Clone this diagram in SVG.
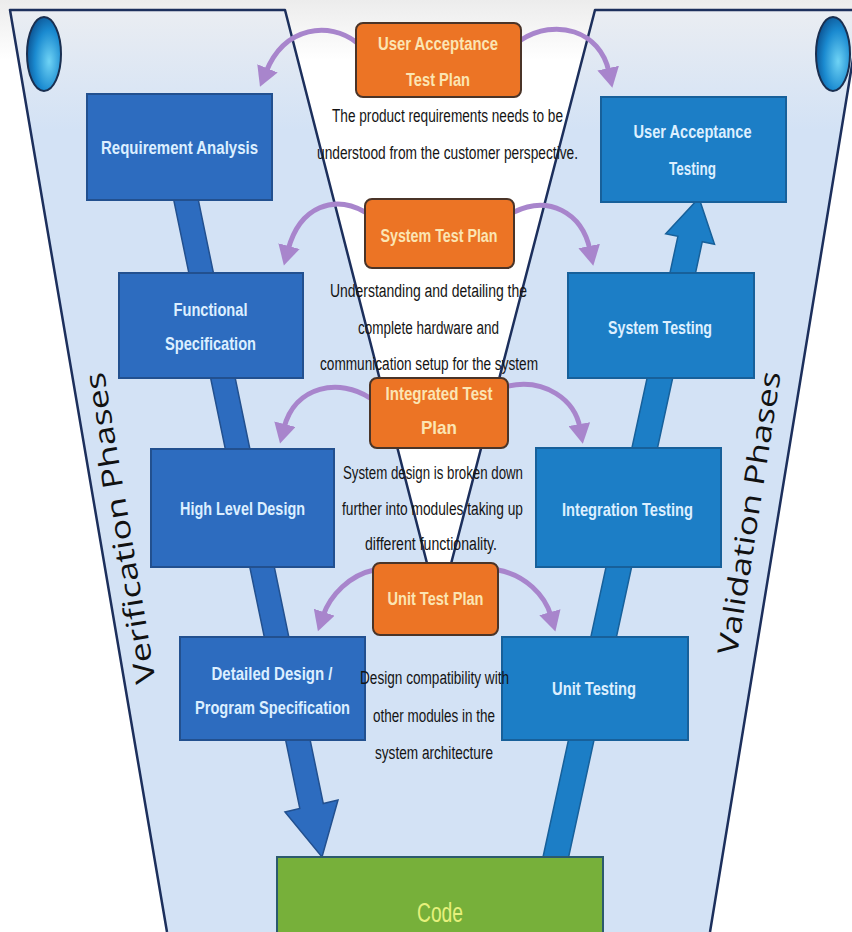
<svg xmlns="http://www.w3.org/2000/svg" width="852" height="932" viewBox="0 0 852 932">
  <defs>
    <linearGradient id="panelGrad" gradientUnits="userSpaceOnUse" x1="0" y1="10" x2="0" y2="130">
      <stop offset="0" stop-color="#eaedf2"/>
      <stop offset="1" stop-color="#d3e2f5"/>
    </linearGradient>
    <linearGradient id="topGrad" gradientUnits="userSpaceOnUse" x1="0" y1="0" x2="0" y2="60">
      <stop offset="0" stop-color="#ececec"/>
      <stop offset="1" stop-color="#ffffff"/>
    </linearGradient>
    <radialGradient id="ovalGrad" cx="0.65" cy="0.6" r="0.7">
      <stop offset="0" stop-color="#6fd3f5"/>
      <stop offset="0.6" stop-color="#1a8ad0"/>
      <stop offset="1" stop-color="#0b4f8e"/>
    </radialGradient>
    <marker id="pArrow" markerUnits="userSpaceOnUse" markerWidth="22" markerHeight="22" refX="4" refY="11" orient="auto">
      <path d="M0,0 L20,11 L0,22 z" fill="#a885cc"/>
    </marker>
    <style>
      .lbox { fill: #2d6cbf; stroke: #22508f; stroke-width: 2; }
      .rbox { fill: #1c7ec6; stroke: #17609a; stroke-width: 2; }
      .obox { fill: #ec7425; stroke: #4a3428; stroke-width: 2; }
      .btxt { font-family: "Liberation Sans", Arial, sans-serif; font-weight: bold; font-size: 19px; fill: #dcefff; text-anchor: middle; }
      .otxt { font-family: "Liberation Sans", Arial, sans-serif; font-weight: bold; font-size: 19px; fill: #fbe5b3; text-anchor: middle; }
      .dtxt { font-family: "Liberation Sans", Arial, sans-serif; font-size: 18px; fill: #141414; text-anchor: middle; }
      .vtxt { font-family: "Open Sans", "DejaVu Sans", sans-serif; font-size: 28px; fill: #111111; text-anchor: middle; }
      .edge { fill: none; stroke: #1c2f5c; stroke-width: 2.5; stroke-linejoin: round; }
      .parc { fill: none; stroke: #a885cc; stroke-width: 5; stroke-linecap: round; }
    </style>
  </defs>

  <!-- background -->
  <rect x="0" y="0" width="852" height="932" fill="#ffffff"/>
  <rect x="0" y="0" width="852" height="60" fill="url(#topGrad)"/>
  <polygon points="10,10 285,10 439,610 595,10 861,10 710,932 167,932" fill="url(#panelGrad)"/>
  <path class="edge" d="M167,932 L10,10 L285,10 L439,610"/>
  <path class="edge" d="M439,610 L595,10 L861,10 L710,932"/>

  <ellipse id="oval-left" cx="44" cy="54" rx="17" ry="37" fill="url(#ovalGrad)" stroke="#1a2f50" stroke-width="2"/>
  <ellipse id="oval-right" cx="833" cy="54" rx="17" ry="37" fill="url(#ovalGrad)" stroke="#1a2f50" stroke-width="2"/>

  <text class="vtxt" transform="translate(121,528) rotate(-99.5)" y="9" textLength="315" lengthAdjust="spacingAndGlyphs">Verification Phases</text>
  <text class="vtxt" transform="translate(750,513) rotate(-81.2)" y="9" textLength="286" lengthAdjust="spacingAndGlyphs">Validation Phases</text>

  <!-- connectors -->
  <g id="connectors">
    <polygon id="band-left" points="173.2,197.4 196.8,192.6 323.3,803.6 338,800 322,857 285,812 299.8,808.4" fill="#2d6cbf" stroke="#22508f" stroke-width="1.5"/>
    <polygon id="band-right" points="540.8,867.3 565.2,872.7 702.3,241.7 714.5,244.3 699,198 665.7,233.7 677.9,236.3" fill="#1c7ec6" stroke="#17609a" stroke-width="1.5"/>
    <path class="parc" marker-end="url(#pArrow)" d="M356,42 C330,22 285,25 266,72"/>
    <path class="parc" marker-end="url(#pArrow)" d="M521,40 C555,18 600,30 609,72"/>
    <path class="parc" marker-end="url(#pArrow)" d="M365,212 C335,195 300,205 288,250"/>
    <path class="parc" marker-end="url(#pArrow)" d="M514,212 C548,195 582,212 590,250"/>
    <path class="parc" marker-end="url(#pArrow)" d="M370,398 C340,378 295,385 284,428"/>
    <path class="parc" marker-end="url(#pArrow)" d="M508,386 C545,378 575,400 580,428"/>
    <path class="parc" marker-end="url(#pArrow)" d="M374,570 C350,575 330,595 323,616"/>
    <path class="parc" marker-end="url(#pArrow)" d="M498,570 C525,575 545,595 551,616"/>
  </g>

  <!-- verification nodes -->
  <g id="requirement-analysis">
    <rect class="lbox" x="87" y="94" width="185" height="106"/>
    <text class="btxt" x="179.5" y="154" textLength="157" lengthAdjust="spacingAndGlyphs">Requirement Analysis</text>
  </g>
  <g id="functional-specification">
    <rect class="lbox" x="119" y="273" width="184" height="105"/>
    <text class="btxt" x="210.5" y="316" textLength="74" lengthAdjust="spacingAndGlyphs">Functional</text>
    <text class="btxt" x="210.5" y="350" textLength="91" lengthAdjust="spacingAndGlyphs">Specification</text>
  </g>
  <g id="high-level-design">
    <rect class="lbox" x="151" y="449" width="183" height="118"/>
    <text class="btxt" x="242.5" y="515" textLength="125" lengthAdjust="spacingAndGlyphs">High Level Design</text>
  </g>
  <g id="detailed-design">
    <rect class="lbox" x="180" y="637" width="185" height="103"/>
    <text class="btxt" x="272" y="680" textLength="121" lengthAdjust="spacingAndGlyphs">Detailed Design /</text>
    <text class="btxt" x="272.5" y="714" textLength="155" lengthAdjust="spacingAndGlyphs">Program Specification</text>
  </g>

  <!-- validation nodes -->
  <g id="user-acceptance-testing">
    <rect class="rbox" x="601" y="97" width="185" height="105"/>
    <text class="btxt" x="692.5" y="138" textLength="118" lengthAdjust="spacingAndGlyphs">User Acceptance</text>
    <text class="btxt" x="692.5" y="175" textLength="47" lengthAdjust="spacingAndGlyphs">Testing</text>
  </g>
  <g id="system-testing">
    <rect class="rbox" x="568" y="273" width="186" height="105"/>
    <text class="btxt" x="660" y="334" textLength="104" lengthAdjust="spacingAndGlyphs">System Testing</text>
  </g>
  <g id="integration-testing">
    <rect class="rbox" x="536" y="448" width="185" height="119"/>
    <text class="btxt" x="627.5" y="516" textLength="131" lengthAdjust="spacingAndGlyphs">Integration Testing</text>
  </g>
  <g id="unit-testing">
    <rect class="rbox" x="502" y="637" width="186" height="103"/>
    <text class="btxt" x="594" y="695" textLength="84" lengthAdjust="spacingAndGlyphs">Unit Testing</text>
  </g>

  <!-- code -->
  <g id="code">
    <rect x="277" y="857" width="326" height="90" fill="#77b03a" stroke="#2b5a6e" stroke-width="2"/>
    <text x="440" y="922" font-family="Liberation Sans, Arial, sans-serif" font-size="27" fill="#e6f07c" text-anchor="middle" textLength="46" lengthAdjust="spacingAndGlyphs">Code</text>
  </g>

  <!-- test plans -->
  <g id="user-acceptance-test-plan">
    <rect class="obox" x="356" y="23" width="165" height="74" rx="7"/>
    <text class="otxt" x="438" y="50" textLength="120" lengthAdjust="spacingAndGlyphs">User Acceptance</text>
    <text class="otxt" x="438" y="86" textLength="64" lengthAdjust="spacingAndGlyphs">Test Plan</text>
    <text class="dtxt" x="447.5" y="122" textLength="231" lengthAdjust="spacingAndGlyphs">The product requirements needs to be</text>
    <text class="dtxt" x="447.5" y="159" textLength="261" lengthAdjust="spacingAndGlyphs">understood from the customer perspective.</text>
  </g>
  <g id="system-test-plan">
    <rect class="obox" x="365" y="199" width="149" height="69" rx="7"/>
    <text class="otxt" x="439" y="242" textLength="117" lengthAdjust="spacingAndGlyphs">System Test Plan</text>
    <text class="dtxt" x="428.5" y="297" textLength="197" lengthAdjust="spacingAndGlyphs">Understanding and detailing the</text>
    <text class="dtxt" x="428.5" y="334" textLength="141" lengthAdjust="spacingAndGlyphs">complete hardware and</text>
    <text class="dtxt" x="429" y="370" textLength="218" lengthAdjust="spacingAndGlyphs">communication setup for the system</text>
  </g>
  <g id="integrated-test-plan">
    <rect class="obox" x="370" y="378" width="138" height="70" rx="7"/>
    <text class="otxt" x="439" y="400" textLength="107" lengthAdjust="spacingAndGlyphs">Integrated Test</text>
    <text class="otxt" x="439" y="434" textLength="36" lengthAdjust="spacingAndGlyphs">Plan</text>
    <text class="dtxt" x="433" y="479" textLength="180" lengthAdjust="spacingAndGlyphs">System design is broken down</text>
    <text class="dtxt" x="432.5" y="515" textLength="181" lengthAdjust="spacingAndGlyphs">further into modules taking up</text>
    <text class="dtxt" x="431" y="550" textLength="132" lengthAdjust="spacingAndGlyphs">different functionality.</text>
  </g>
  <g id="unit-test-plan">
    <rect class="obox" x="373" y="563" width="125" height="72" rx="7"/>
    <text class="otxt" x="435.5" y="605" textLength="96" lengthAdjust="spacingAndGlyphs">Unit Test Plan</text>
    <text class="dtxt" x="434.5" y="684" textLength="149" lengthAdjust="spacingAndGlyphs">Design compatibility with</text>
    <text class="dtxt" x="434" y="722" textLength="122" lengthAdjust="spacingAndGlyphs">other modules in the</text>
    <text class="dtxt" x="434" y="759" textLength="118" lengthAdjust="spacingAndGlyphs">system architecture</text>
  </g>
</svg>
